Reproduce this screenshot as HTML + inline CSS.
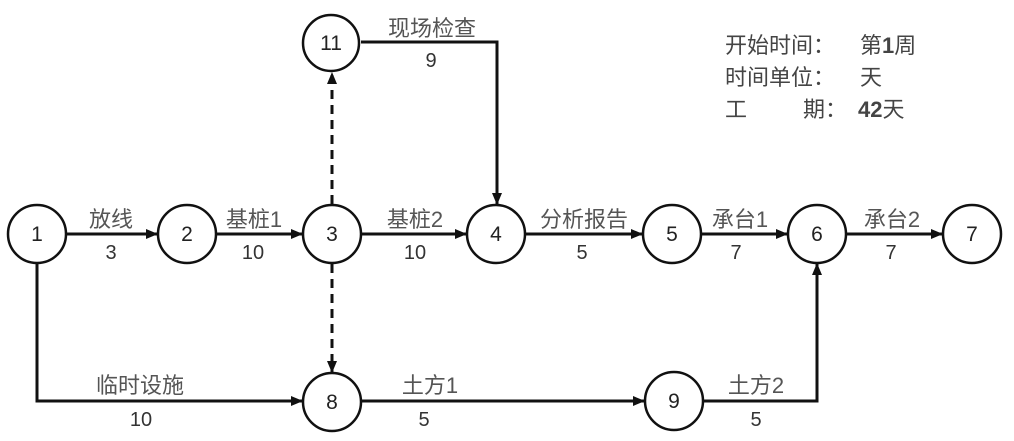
<!DOCTYPE html>
<html><head><meta charset="utf-8"><style>
html,body{margin:0;padding:0;background:#fff;}
svg{display:block;}
text{font-family:"Liberation Sans","Noto Sans CJK SC",sans-serif;}
.l{font-size:22px;fill:#555;text-anchor:middle;}
.n{font-size:20px;fill:#333;text-anchor:middle;}
.c{font-size:21px;fill:#222;text-anchor:middle;}
.i{font-size:22px;fill:#444;}
</style></head><body>
<svg width="1014" height="441" viewBox="0 0 1014 441">
<defs><marker id="a" markerWidth="12" markerHeight="10" refX="11" refY="5" orient="auto" markerUnits="userSpaceOnUse"><path d="M0,0 L12,5 L0,10 Z" fill="#111"/></marker></defs>
<g stroke="#111" stroke-width="3" fill="none">
<line x1="67" y1="234" x2="157" y2="234" marker-end="url(#a)"/>
<line x1="217" y1="234" x2="302" y2="234" marker-end="url(#a)"/>
<line x1="362" y1="234" x2="466" y2="234" marker-end="url(#a)"/>
<line x1="526" y1="234" x2="642" y2="234" marker-end="url(#a)"/>
<line x1="702" y1="234" x2="787" y2="234" marker-end="url(#a)"/>
<line x1="847" y1="234" x2="942" y2="234" marker-end="url(#a)"/>
<polyline points="361,42 497,42 497,204" marker-end="url(#a)"/>
<polyline points="37,264 37,401 302,401" marker-end="url(#a)"/>
<line x1="362" y1="401" x2="644" y2="401" marker-end="url(#a)"/>
<polyline points="704,401 817,401 817,264" marker-end="url(#a)"/>
<line x1="332" y1="204" x2="332" y2="73" stroke-dasharray="9,6" marker-end="url(#a)"/>
<line x1="332" y1="264" x2="332" y2="372" stroke-dasharray="9,6" marker-end="url(#a)"/>
</g>
<g stroke="#111" stroke-width="2.5" fill="#fff">
<circle cx="37" cy="234" r="29"/><circle cx="187" cy="234" r="29"/><circle cx="332" cy="234" r="29"/>
<circle cx="496" cy="234" r="29"/><circle cx="672" cy="234" r="29"/><circle cx="817" cy="234" r="29"/>
<circle cx="972" cy="234" r="29"/><circle cx="331" cy="43" r="28"/><circle cx="332" cy="402" r="29"/>
<circle cx="674" cy="401" r="29"/>
</g>
<g class="c">
<text x="37" y="241">1</text><text x="187" y="241">2</text><text x="332" y="241">3</text>
<text x="496" y="241">4</text><text x="672" y="241">5</text><text x="817" y="241">6</text>
<text x="972" y="241">7</text><text x="331" y="50">11</text><text x="332" y="409">8</text><text x="674" y="408">9</text>
</g>
<g class="l">
<text x="111" y="227">放线</text><text x="254" y="227">基桩1</text><text x="415" y="227">基桩2</text>
<text x="584" y="227">分析报告</text><text x="740" y="227">承台1</text><text x="892" y="227">承台2</text>
<text x="432" y="36">现场检查</text><text x="140" y="393">临时设施</text><text x="430" y="393">土方1</text><text x="756" y="393">土方2</text>
</g>
<g class="n">
<text x="111" y="259">3</text><text x="253" y="259">10</text><text x="415" y="259">10</text>
<text x="582" y="259">5</text><text x="736" y="259">7</text><text x="891" y="259">7</text>
<text x="431" y="67">9</text><text x="141" y="426">10</text><text x="424" y="426">5</text><text x="756" y="426">5</text>
</g>
<text class="i" x="725" y="53">开始时间：</text><text class="i" x="860" y="53">第<tspan font-weight="bold">1</tspan>周</text>
<text class="i" x="725" y="85">时间单位：</text><text class="i" x="860" y="85">天</text>
<text class="i" x="725" y="117">工</text><text class="i" x="803" y="117">期：</text><text class="i" x="858" y="117"><tspan font-weight="bold">42</tspan>天</text>
</svg>
</body></html>
